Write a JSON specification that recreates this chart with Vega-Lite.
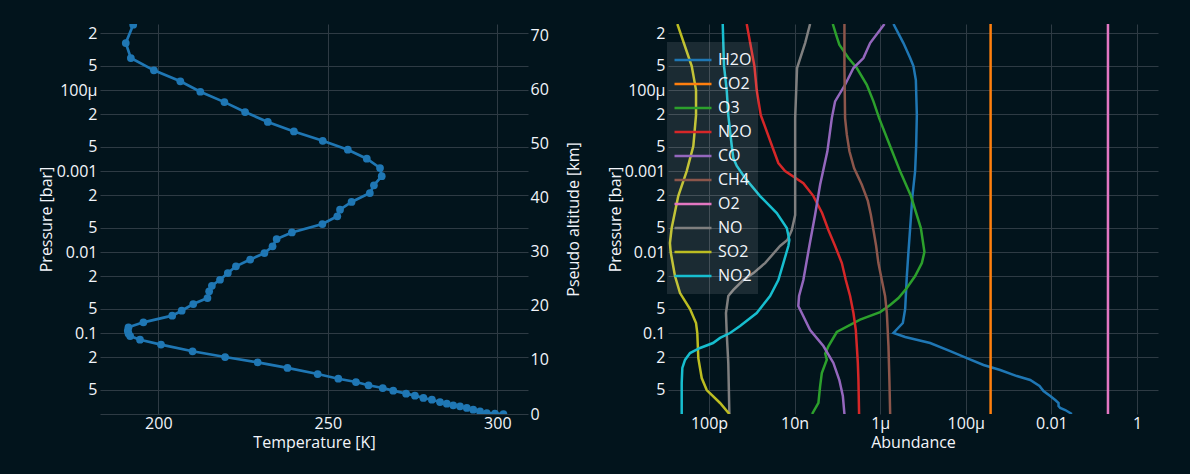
{
  "$schema": "https://vega.github.io/schema/vega-lite/v6.json",
  "background": "#02141c",
  "padding": {"left": 38, "top": 21, "right": 32, "bottom": 26},
  "spacing": 25,
  "config": {
    "view": {"stroke": null},
    "axis": {"labelFont": "Open Sans", "titleFont": "Open Sans", "labelFontSize": 16, "titleFontSize": 16, "titleFontWeight": "normal", "labelColor": "#f2f5fa", "titleColor": "#f2f5fa", "gridColor": "#2e3b44", "gridWidth": 1, "ticks": false, "domain": false},
    "legend": {"labelFont": "Open Sans", "labelFontSize": 16, "labelColor": "#f2f5fa"}
  },
  "datasets": {
    "temp": [
      {"T": 192.6, "P": 1.56e-5, "alt": 72.1}, {"T": 190.4, "P": 2.63e-5, "alt": 68.7}, {"T": 191.9, "P": 4.03e-5, "alt": 65.9},
      {"T": 198.7, "P": 5.71e-5, "alt": 63.6}, {"T": 206.5, "P": 7.81e-5, "alt": 61.6}, {"T": 212.4, "P": 1.05e-4, "alt": 59.7},
      {"T": 219.5, "P": 1.41e-4, "alt": 57.8}, {"T": 225.6, "P": 1.87e-4, "alt": 55.9}, {"T": 232.3, "P": 2.48e-4, "alt": 54.1},
      {"T": 240.0, "P": 3.25e-4, "alt": 52.3}, {"T": 248.5, "P": 4.23e-4, "alt": 50.6}, {"T": 255.9, "P": 5.46e-4, "alt": 48.9},
      {"T": 261.5, "P": 7.05e-4, "alt": 47.3}, {"T": 265.4, "P": 9.18e-4, "alt": 45.6}, {"T": 265.9, "P": 1.16e-3, "alt": 44.0},
      {"T": 263.6, "P": 1.50e-3, "alt": 42.4}, {"T": 262.4, "P": 1.87e-3, "alt": 40.9}, {"T": 257.0, "P": 2.41e-3, "alt": 39.3},
      {"T": 253.6, "P": 3.00e-3, "alt": 37.8}, {"T": 252.8, "P": 3.62e-3, "alt": 36.6}, {"T": 248.4, "P": 4.51e-3, "alt": 35.2},
      {"T": 239.4, "P": 5.74e-3, "alt": 33.6}, {"T": 234.9, "P": 6.91e-3, "alt": 32.4}, {"T": 233.7, "P": 8.51e-3, "alt": 31.1},
      {"T": 231.3, "P": 1.03e-2, "alt": 29.8}, {"T": 227.1, "P": 1.24e-2, "alt": 28.6}, {"T": 222.9, "P": 1.50e-2, "alt": 27.4},
      {"T": 220.5, "P": 1.82e-2, "alt": 26.1}, {"T": 218.2, "P": 2.20e-2, "alt": 24.9}, {"T": 215.8, "P": 2.61e-2, "alt": 23.8},
      {"T": 215.0, "P": 3.06e-2, "alt": 22.7}, {"T": 214.5, "P": 3.70e-2, "alt": 21.5}, {"T": 210.3, "P": 4.39e-2, "alt": 20.4},
      {"T": 206.9, "P": 5.31e-2, "alt": 19.1}, {"T": 204.1, "P": 6.11e-2, "alt": 18.2}, {"T": 195.6, "P": 7.38e-2, "alt": 17.0},
      {"T": 191.2, "P": 8.51e-2, "alt": 16.1}, {"T": 191.0, "P": 9.37e-2, "alt": 15.4}, {"T": 191.2, "P": 0.1014, "alt": 14.9},
      {"T": 191.7, "P": 0.109, "alt": 14.4}, {"T": 194.6, "P": 0.121, "alt": 13.8}, {"T": 200.8, "P": 0.139, "alt": 12.8},
      {"T": 210.1, "P": 0.168, "alt": 11.6}, {"T": 219.7, "P": 0.198, "alt": 10.6}, {"T": 229.3, "P": 0.230, "alt": 9.6},
      {"T": 238.1, "P": 0.270, "alt": 8.5}, {"T": 247.0, "P": 0.321, "alt": 7.4}, {"T": 253.1, "P": 0.367, "alt": 6.5},
      {"T": 258.3, "P": 0.403, "alt": 5.9}, {"T": 262.0, "P": 0.442, "alt": 5.3}, {"T": 266.2, "P": 0.478, "alt": 4.8},
      {"T": 269.3, "P": 0.515, "alt": 4.3}, {"T": 273.1, "P": 0.561, "alt": 3.8}, {"T": 275.7, "P": 0.594, "alt": 3.4},
      {"T": 278.2, "P": 0.634, "alt": 3.0}, {"T": 280.7, "P": 0.666, "alt": 2.6}, {"T": 283.1, "P": 0.711, "alt": 2.2},
      {"T": 285.1, "P": 0.746, "alt": 1.9}, {"T": 287.0, "P": 0.781, "alt": 1.6}, {"T": 289.0, "P": 0.803, "alt": 1.4},
      {"T": 291.0, "P": 0.843, "alt": 1.1}, {"T": 292.9, "P": 0.885, "alt": 0.8}, {"T": 294.9, "P": 0.931, "alt": 0.5},
      {"T": 296.9, "P": 0.972, "alt": 0.2}, {"T": 299.3, "P": 0.986, "alt": 0.1}, {"T": 301.8, "P": 1.0, "alt": 0.0}
    ],
    "abund": [
      {"gas": "H2O", "P": 1.53e-5, "A": 2.04e-6}, {"gas": "H2O", "P": 2.63e-5, "A": 3.49e-6}, {"gas": "H2O", "P": 4.03e-5, "A": 5.01e-6},
      {"gas": "H2O", "P": 5.06e-5, "A": 5.98e-6}, {"gas": "H2O", "P": 7.53e-5, "A": 6.81e-6}, {"gas": "H2O", "P": 2.04e-4, "A": 7.18e-6},
      {"gas": "H2O", "P": 4.91e-4, "A": 6.92e-6}, {"gas": "H2O", "P": 1e-3, "A": 6.55e-6}, {"gas": "H2O", "P": 2.04e-3, "A": 5.66e-6},
      {"gas": "H2O", "P": 5.06e-3, "A": 5.01e-6}, {"gas": "H2O", "P": 0.01, "A": 4.57e-6}, {"gas": "H2O", "P": 0.0198, "A": 4.19e-6},
      {"gas": "H2O", "P": 0.0506, "A": 3.83e-6}, {"gas": "H2O", "P": 0.0753, "A": 3.38e-6}, {"gas": "H2O", "P": 0.1, "A": 2.04e-6},
      {"gas": "H2O", "P": 0.112, "A": 3.83e-6}, {"gas": "H2O", "P": 0.133, "A": 1.47e-5}, {"gas": "H2O", "P": 0.167, "A": 4.32e-5},
      {"gas": "H2O", "P": 0.204, "A": 1.06e-4}, {"gas": "H2O", "P": 0.248, "A": 2.59e-4}, {"gas": "H2O", "P": 0.286, "A": 6.37e-4},
      {"gas": "H2O", "P": 0.34, "A": 1.56e-3}, {"gas": "H2O", "P": 0.38, "A": 3.2e-3}, {"gas": "H2O", "P": 0.451, "A": 5.28e-3},
      {"gas": "H2O", "P": 0.52, "A": 6.55e-3}, {"gas": "H2O", "P": 0.6, "A": 9.4e-3}, {"gas": "H2O", "P": 0.671, "A": 1.23e-2},
      {"gas": "H2O", "P": 0.731, "A": 1.47e-2}, {"gas": "H2O", "P": 0.796, "A": 1.47e-2}, {"gas": "H2O", "P": 0.843, "A": 1.61e-2},
      {"gas": "H2O", "P": 0.893, "A": 2.11e-2}, {"gas": "H2O", "P": 1.0, "A": 3.02e-2},
      {"gas": "CO2", "P": 1.53e-5, "A": 3.8e-4}, {"gas": "CO2", "P": 1.0, "A": 3.8e-4},
      {"gas": "O3", "P": 1.53e-5, "A": 7.8e-8}, {"gas": "O3", "P": 2.07e-5, "A": 9.31e-8}, {"gas": "O3", "P": 2.76e-5, "A": 1.11e-7},
      {"gas": "O3", "P": 4.03e-5, "A": 1.81e-7}, {"gas": "O3", "P": 5.35e-5, "A": 2.84e-7}, {"gas": "O3", "P": 8.61e-5, "A": 4.86e-7},
      {"gas": "O3", "P": 1.38e-4, "A": 6.95e-7}, {"gas": "O3", "P": 2.22e-4, "A": 9.44e-7}, {"gas": "O3", "P": 4.95e-4, "A": 1.71e-6},
      {"gas": "O3", "P": 1.01e-3, "A": 2.92e-6}, {"gas": "O3", "P": 2.02e-3, "A": 5.2e-6}, {"gas": "O3", "P": 5.06e-3, "A": 8.91e-6},
      {"gas": "O3", "P": 0.01, "A": 1.08e-5}, {"gas": "O3", "P": 0.0137, "A": 9.4e-6}, {"gas": "O3", "P": 0.0198, "A": 6.55e-6},
      {"gas": "O3", "P": 0.0278, "A": 4.19e-6}, {"gas": "O3", "P": 0.037, "A": 2.67e-6}, {"gas": "O3", "P": 0.0451, "A": 1.71e-6},
      {"gas": "O3", "P": 0.0551, "A": 9.95e-7}, {"gas": "O3", "P": 0.0685, "A": 3.39e-7}, {"gas": "O3", "P": 0.0972, "A": 9.68e-8},
      {"gas": "O3", "P": 0.146, "A": 6.15e-8}, {"gas": "O3", "P": 0.18, "A": 5.2e-8}, {"gas": "O3", "P": 0.214, "A": 5.65e-8},
      {"gas": "O3", "P": 0.312, "A": 4.32e-8}, {"gas": "O3", "P": 0.455, "A": 3.94e-8}, {"gas": "O3", "P": 0.731, "A": 3.6e-8},
      {"gas": "O3", "P": 1.0, "A": 2.56e-8},
      {"gas": "N2O", "P": 1.53e-5, "A": 7.6e-10}, {"gas": "N2O", "P": 5.06e-5, "A": 1.15e-9}, {"gas": "N2O", "P": 1e-4, "A": 1.3e-9},
      {"gas": "N2O", "P": 2.04e-4, "A": 1.62e-9}, {"gas": "N2O", "P": 4.91e-4, "A": 2.97e-9}, {"gas": "N2O", "P": 7.96e-4, "A": 4.17e-9},
      {"gas": "N2O", "P": 1e-3, "A": 5.98e-9}, {"gas": "N2O", "P": 1.41e-3, "A": 1.6e-8}, {"gas": "N2O", "P": 2.04e-3, "A": 2.75e-8},
      {"gas": "N2O", "P": 3.3e-3, "A": 4.39e-8}, {"gas": "N2O", "P": 5.35e-3, "A": 6.15e-8}, {"gas": "N2O", "P": 8.43e-3, "A": 8.83e-8},
      {"gas": "N2O", "P": 0.0137, "A": 1.27e-7}, {"gas": "N2O", "P": 0.0222, "A": 1.57e-7}, {"gas": "N2O", "P": 0.0349, "A": 1.98e-7},
      {"gas": "N2O", "P": 0.0566, "A": 2.37e-7}, {"gas": "N2O", "P": 0.0918, "A": 2.69e-7}, {"gas": "N2O", "P": 0.145, "A": 2.84e-7},
      {"gas": "N2O", "P": 0.234, "A": 3.0e-7}, {"gas": "N2O", "P": 0.38, "A": 3.1e-7}, {"gas": "N2O", "P": 1.0, "A": 3.21e-7},
      {"gas": "CO", "P": 1.53e-5, "A": 1.26e-6}, {"gas": "CO", "P": 2.63e-5, "A": 5.81e-7}, {"gas": "CO", "P": 4.03e-5, "A": 4.06e-7},
      {"gas": "CO", "P": 5.35e-5, "A": 2.37e-7}, {"gas": "CO", "P": 8.61e-5, "A": 1.51e-7}, {"gas": "CO", "P": 1.38e-4, "A": 8.83e-8},
      {"gas": "CO", "P": 2.22e-4, "A": 7.4e-8}, {"gas": "CO", "P": 5.71e-4, "A": 5.83e-8}, {"gas": "CO", "P": 1.48e-3, "A": 3.94e-8},
      {"gas": "CO", "P": 3.47e-3, "A": 3.01e-8}, {"gas": "CO", "P": 8.43e-3, "A": 2.21e-8}, {"gas": "CO", "P": 0.0222, "A": 1.6e-8},
      {"gas": "CO", "P": 0.0349, "A": 1.27e-8}, {"gas": "CO", "P": 0.0465, "A": 1.22e-8}, {"gas": "CO", "P": 0.0566, "A": 1.47e-8},
      {"gas": "CO", "P": 0.0918, "A": 2.3e-8}, {"gas": "CO", "P": 0.145, "A": 4.7e-8}, {"gas": "CO", "P": 0.234, "A": 8.05e-8},
      {"gas": "CO", "P": 0.38, "A": 1.11e-7}, {"gas": "CO", "P": 0.6, "A": 1.34e-7}, {"gas": "CO", "P": 1.0, "A": 1.46e-7},
      {"gas": "CH4", "P": 1.53e-5, "A": 1.46e-7}, {"gas": "CH4", "P": 5.35e-5, "A": 1.46e-7}, {"gas": "CH4", "P": 2.22e-4, "A": 1.51e-7},
      {"gas": "CH4", "P": 3.56e-4, "A": 1.66e-7}, {"gas": "CH4", "P": 5.71e-4, "A": 1.91e-7}, {"gas": "CH4", "P": 9.18e-4, "A": 2.45e-7},
      {"gas": "CH4", "P": 1.48e-3, "A": 3.72e-7}, {"gas": "CH4", "P": 2.34e-3, "A": 5.14e-7}, {"gas": "CH4", "P": 3.47e-3, "A": 6.04e-7},
      {"gas": "CH4", "P": 5.35e-3, "A": 6.95e-7}, {"gas": "CH4", "P": 8.43e-3, "A": 8.04e-7}, {"gas": "CH4", "P": 0.0137, "A": 9.08e-7},
      {"gas": "CH4", "P": 0.0222, "A": 1.09e-6}, {"gas": "CH4", "P": 0.0349, "A": 1.3e-6}, {"gas": "CH4", "P": 0.0566, "A": 1.43e-6},
      {"gas": "CH4", "P": 0.145, "A": 1.56e-6}, {"gas": "CH4", "P": 0.38, "A": 1.64e-6}, {"gas": "CH4", "P": 1.0, "A": 1.71e-6},
      {"gas": "O2", "P": 1.53e-5, "A": 0.21}, {"gas": "O2", "P": 1.0, "A": 0.21},
      {"gas": "NO", "P": 1.53e-5, "A": 2.3e-8}, {"gas": "NO", "P": 2.63e-5, "A": 1.76e-8}, {"gas": "NO", "P": 5.35e-5, "A": 1.14e-8},
      {"gas": "NO", "P": 2.22e-4, "A": 1.03e-8}, {"gas": "NO", "P": 3.49e-3, "A": 1.03e-8}, {"gas": "NO", "P": 5.35e-3, "A": 8.59e-9},
      {"gas": "NO", "P": 7.11e-3, "A": 6.78e-9}, {"gas": "NO", "P": 8.43e-3, "A": 4.57e-9}, {"gas": "NO", "P": 0.0137, "A": 2.04e-9},
      {"gas": "NO", "P": 0.0182, "A": 1.09e-9}, {"gas": "NO", "P": 0.0222, "A": 6.34e-10}, {"gas": "NO", "P": 0.0294, "A": 3.7e-10},
      {"gas": "NO", "P": 0.0349, "A": 2.82e-10}, {"gas": "NO", "P": 0.0566, "A": 2.49e-10}, {"gas": "NO", "P": 0.1, "A": 2.59e-10},
      {"gas": "NO", "P": 0.234, "A": 2.82e-10}, {"gas": "NO", "P": 1.0, "A": 2.99e-10},
      {"gas": "SO2", "P": 1.53e-5, "A": 1.82e-11}, {"gas": "SO2", "P": 5.06e-5, "A": 3.94e-11}, {"gas": "SO2", "P": 1e-4, "A": 4.97e-11},
      {"gas": "SO2", "P": 2.04e-4, "A": 4.97e-11}, {"gas": "SO2", "P": 4.91e-4, "A": 4.3e-11}, {"gas": "SO2", "P": 1e-3, "A": 3.01e-11},
      {"gas": "SO2", "P": 2.04e-3, "A": 1.91e-11}, {"gas": "SO2", "P": 5.06e-3, "A": 1.34e-11}, {"gas": "SO2", "P": 7.74e-3, "A": 1.22e-11},
      {"gas": "SO2", "P": 0.01, "A": 1.27e-11}, {"gas": "SO2", "P": 0.0198, "A": 1.6e-11}, {"gas": "SO2", "P": 0.0321, "A": 2.1e-11},
      {"gas": "SO2", "P": 0.0506, "A": 3.6e-11}, {"gas": "SO2", "P": 0.0753, "A": 4.97e-11}, {"gas": "SO2", "P": 0.1, "A": 5.32e-11},
      {"gas": "SO2", "P": 0.204, "A": 5.62e-11}, {"gas": "SO2", "P": 0.36, "A": 6.75e-11}, {"gas": "SO2", "P": 0.506, "A": 8.83e-11},
      {"gas": "SO2", "P": 0.731, "A": 1.81e-10}, {"gas": "SO2", "P": 1.0, "A": 2.99e-10},
      {"gas": "NO2", "P": 1.53e-5, "A": 2.09e-10}, {"gas": "NO2", "P": 5.06e-5, "A": 2.24e-10}, {"gas": "NO2", "P": 1e-4, "A": 2.59e-10},
      {"gas": "NO2", "P": 2.04e-4, "A": 2.82e-10}, {"gas": "NO2", "P": 4.91e-4, "A": 3.4e-10}, {"gas": "NO2", "P": 6.92e-4, "A": 3.7e-10},
      {"gas": "NO2", "P": 8.67e-4, "A": 4.45e-10}, {"gas": "NO2", "P": 1.22e-3, "A": 6.95e-10}, {"gas": "NO2", "P": 2.04e-3, "A": 1.56e-9},
      {"gas": "NO2", "P": 3.3e-3, "A": 3.83e-9}, {"gas": "NO2", "P": 5.06e-3, "A": 6.56e-9}, {"gas": "NO2", "P": 7.11e-3, "A": 7.53e-9},
      {"gas": "NO2", "P": 8.43e-3, "A": 7.14e-9}, {"gas": "NO2", "P": 0.0137, "A": 5.46e-9}, {"gas": "NO2", "P": 0.0222, "A": 4.17e-9},
      {"gas": "NO2", "P": 0.0349, "A": 2.67e-9}, {"gas": "NO2", "P": 0.0566, "A": 1.3e-9}, {"gas": "NO2", "P": 0.082, "A": 5.31e-10},
      {"gas": "NO2", "P": 0.1, "A": 3.1e-10}, {"gas": "NO2", "P": 0.115, "A": 1.81e-10}, {"gas": "NO2", "P": 0.133, "A": 1.24e-10},
      {"gas": "NO2", "P": 0.153, "A": 6.17e-11}, {"gas": "NO2", "P": 0.177, "A": 3.6e-11}, {"gas": "NO2", "P": 0.215, "A": 2.75e-11},
      {"gas": "NO2", "P": 0.27, "A": 2.38e-11}, {"gas": "NO2", "P": 0.414, "A": 2.3e-11}, {"gas": "NO2", "P": 1.0, "A": 2.3e-11}
    ]
  },
  "hconcat": [
    {
      "width": 428,
      "height": 390,
      "data": {"name": "temp"},
      "layer": [
        {
          "layer": [
            {
              "mark": {"type": "line", "color": "#1f77b4", "strokeWidth": 2.7, "clip": true},
              "encoding": {
                "x": {"field": "T", "type": "quantitative", "scale": {"domain": [182.8, 309.05], "nice": false, "zero": false},
                  "axis": {"values": [200, 250, 300], "grid": true, "domain": true, "domainColor": "#2e3b44", "labelPadding": 1, "titlePadding": 3, "title": "Temperature [K]"}},
                "y": {"field": "P", "type": "quantitative", "scale": {"type": "log", "domain": [1.53e-5, 1], "reverse": true, "nice": false},
                  "axis": {"values": [2e-5, 5e-5, 0.0001, 2e-4, 5e-4, 0.001, 0.002, 0.005, 0.01, 0.02, 0.05, 0.1, 0.2, 0.5], "grid": true, "labelPadding": 3, "titlePadding": 2, "title": "Pressure [bar]",
                    "labelExpr": "datum.value == 0.0001 ? '100μ' : datum.value == 0.001 ? '0.001' : datum.value == 0.01 ? '0.01' : datum.value == 0.1 ? '0.1' : format(datum.value / pow(10, floor(log(datum.value) / LN10 + 0.000001)), '.0f')"}},
                "order": {"field": "P", "type": "quantitative"}
              }
            },
            {
              "mark": {"type": "point", "filled": true, "opacity": 1, "size": 60, "color": "#1f77b4", "clip": true},
              "encoding": {
                "x": {"field": "T", "type": "quantitative"},
                "y": {"field": "P", "type": "quantitative"}
              }
            }
          ]
        },
        {
          "mark": {"type": "point", "opacity": 0},
          "encoding": {
            "x": {"field": "T", "type": "quantitative"},
            "y": {"field": "alt", "type": "quantitative", "scale": {"domain": [0, 72.2], "nice": false},
              "axis": {"orient": "right", "values": [0, 10, 20, 30, 40, 50, 60, 70], "grid": false, "labelPadding": 2, "titlePadding": 33, "titleAngle": 270, "title": "Pseudo altitude [km]"}}
          }
        }
      ],
      "resolve": {"scale": {"y": "independent"}}
    },
    {
      "width": 490,
      "height": 390,
      "data": {"name": "abund"},
      "mark": {"type": "line", "strokeWidth": 2.5, "clip": true},
      "encoding": {
        "x": {"field": "A", "type": "quantitative", "scale": {"type": "log", "domain": [1.1e-11, 3.1], "nice": false},
          "axis": {"values": [1e-10, 1e-8, 1e-6, 0.0001, 0.01, 1], "grid": true, "labelPadding": 1, "titlePadding": 3, "title": "Abundance",
            "labelExpr": "datum.value < 1e-9 ? '100p' : datum.value < 1e-7 ? '10n' : datum.value < 1e-5 ? '1μ' : datum.value < 0.001 ? '100μ' : datum.value < 0.1 ? '0.01' : '1'"}},
        "y": {"field": "P", "type": "quantitative", "scale": {"type": "log", "domain": [1.53e-5, 1], "reverse": true, "nice": false},
          "axis": {"values": [2e-5, 5e-5, 0.0001, 2e-4, 5e-4, 0.001, 0.002, 0.005, 0.01, 0.02, 0.05, 0.1, 0.2, 0.5], "grid": true, "labelPadding": 3, "titlePadding": 1, "title": "Pressure [bar]",
            "labelExpr": "datum.value == 0.0001 ? '100μ' : datum.value == 0.001 ? '0.001' : datum.value == 0.01 ? '0.01' : datum.value == 0.1 ? '0.1' : format(datum.value / pow(10, floor(log(datum.value) / LN10 + 0.000001)), '.0f')"}},
        "color": {"field": "gas", "type": "nominal",
          "scale": {"domain": ["H2O", "CO2", "O3", "N2O", "CO", "CH4", "O2", "NO", "SO2", "NO2"],
            "range": ["#1f77b4", "#ff7f0e", "#2ca02c", "#d62728", "#9467bd", "#8c564b", "#e377c2", "#7f7f7f", "#bcbd22", "#17becf"]},
          "legend": {"title": null, "orient": "none", "legendX": 567, "legendY": 18, "symbolType": "stroke", "symbolSize": 1369, "symbolStrokeWidth": 2.5, "clipHeight": 24, "rowPadding": 0, "padding": 6, "labelOffset": 5, "fillColor": "rgba(255,255,255,0.1)"}},
        "order": {"field": "P", "type": "quantitative"}
      }
    }
  ]
}
